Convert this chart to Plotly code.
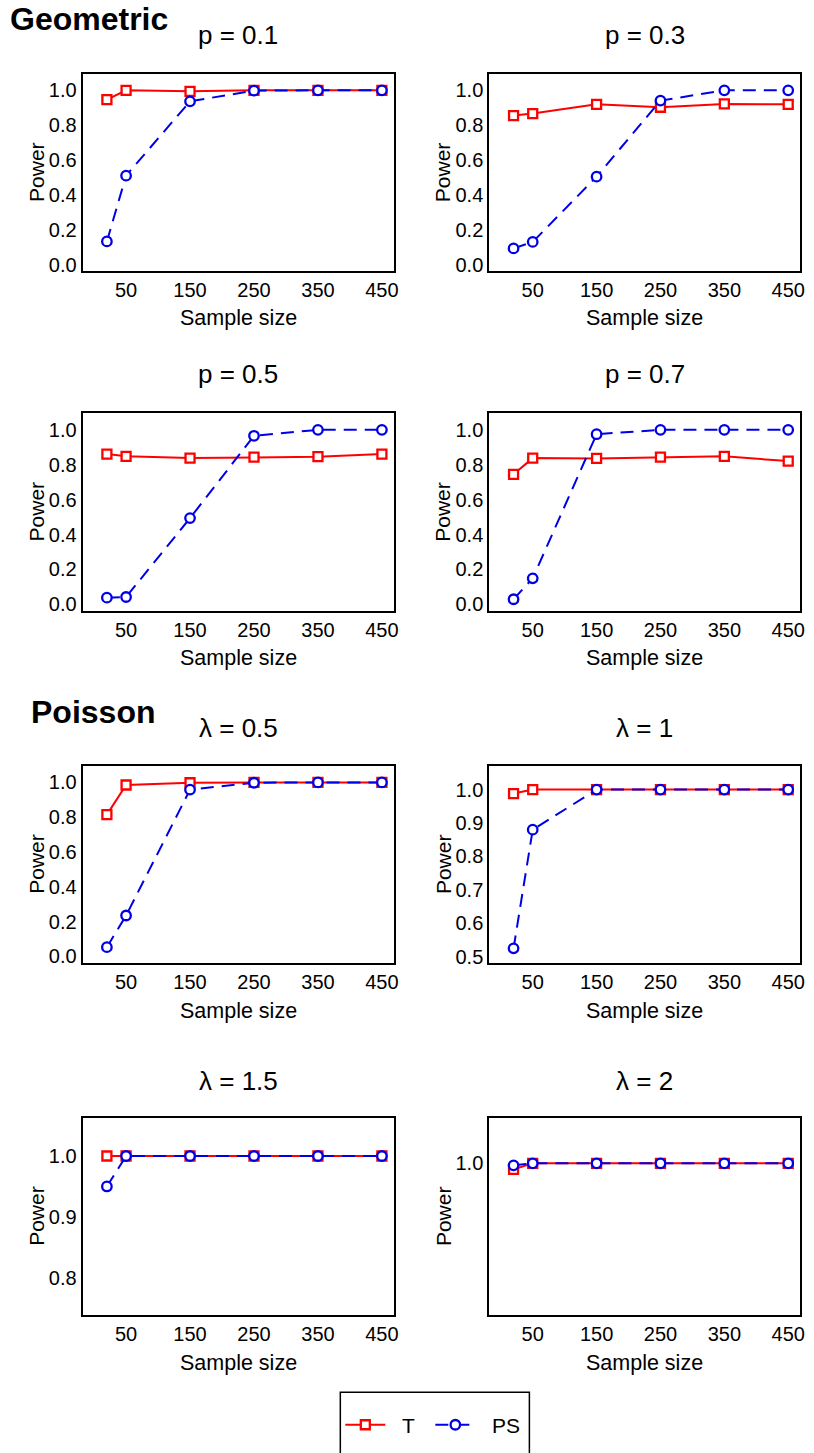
import plotly.graph_objects as go

W, H = 814, 1453

sample_size = [20, 50, 150, 250, 350, 450]
x_ticks = [50, 150, 250, 350, 450]

panel_titles = ["p = 0.1", "p = 0.3", "p = 0.5", "p = 0.7",
                "λ = 0.5", "λ = 1", "λ = 1.5", "λ = 2"]

# Power of test T (red squares) per panel
T_geo_01 = [0.947, 1.0, 0.994, 1.0, 1.0, 1.0]
T_geo_03 = [0.855, 0.867, 0.920, 0.903, 0.922, 0.920]
T_geo_05 = [0.861, 0.848, 0.838, 0.844, 0.846, 0.861]
T_geo_07 = [0.745, 0.838, 0.836, 0.844, 0.848, 0.821]
T_poi_05 = [0.815, 0.985, 0.998, 1.0, 1.0, 1.0]
T_poi_1 = [0.988, 1.0, 1.0, 1.0, 1.0, 1.0]
T_poi_15 = [1.0, 1.0, 1.0, 1.0, 1.0, 1.0]
T_poi_2 = [0.9994, 1.0, 1.0, 1.0, 1.0, 1.0]

# Power of test PS (blue circles) per panel
PS_geo_01 = [0.134, 0.511, 0.937, 0.998, 1.0, 1.0]
PS_geo_03 = [0.094, 0.131, 0.505, 0.941, 1.0, 1.0]
PS_geo_05 = [0.038, 0.042, 0.494, 0.966, 1.0, 1.0]
PS_geo_07 = [0.029, 0.149, 0.975, 1.0, 1.0, 1.0]
PS_poi_05 = [0.053, 0.235, 0.958, 0.998, 1.0, 1.0]
PS_poi_1 = [0.525, 0.880, 1.0, 1.0, 1.0, 1.0]
PS_poi_15 = [0.950, 1.0, 1.0, 1.0, 1.0, 1.0]
PS_poi_2 = [0.9998, 1.0, 1.0, 1.0, 1.0, 1.0]

T_series = [T_geo_01, T_geo_03, T_geo_05, T_geo_07, T_poi_05, T_poi_1, T_poi_15, T_poi_2]
PS_series = [PS_geo_01, PS_geo_03, PS_geo_05, PS_geo_07, PS_poi_05, PS_poi_1, PS_poi_15, PS_poi_2]

y_ticks_01 = [0.0, 0.2, 0.4, 0.6, 0.8, 1.0]
y_ticks_p1 = [0.5, 0.6, 0.7, 0.8, 0.9, 1.0]
y_ticks_p15 = [0.8, 0.9, 1.0]
y_ticks_p2 = [1.0]
y_tick_sets = [y_ticks_01] * 5 + [y_ticks_p1, y_ticks_p15, y_ticks_p2]

y_ranges = [[-0.036, 1.095]] * 5 + [[0.482, 1.071], [0.7395, 1.0626], [0.985, 1.0045]]
x_range = [-18, 469]

FONT = "Liberation Sans, Arial, sans-serif"
RED = "#ff0000"
BLUE = "#0000e6"

# panel boxes in pixels: (left, right, top, bottom)
cols = [(83, 396), (491.7, 804.3)]
rows = [(74, 272), (414.7, 612.7), (768.5, 966), (1121.7, 1319.3)]
title_y = [34.7, 375.5, 731, 1085]
xlab_y = [319, 660, 1014, 1367.5]
ylab_x = [36.7, 445]

def px_x(v):
    return v / W

def px_y(v):
    return 1 - v / H

fig = go.Figure()
annotations = []

for i in range(8):
    r, c = divmod(i, 2)
    n = i + 1
    xa = "x" if n == 1 else f"x{n}"
    ya = "y" if n == 1 else f"y{n}"
    fig.add_trace(go.Scatter(
        x=sample_size, y=T_series[i], xaxis=xa, yaxis=ya,
        mode="lines+markers", name="\u00a0\u00a0T", legendgroup="T", showlegend=(i == 0),
        line=dict(color=RED, width=2),
        marker=dict(symbol="square", size=9, color="white",
                    line=dict(color=RED, width=2.3)),
        cliponaxis=False,
    ))
    fig.add_trace(go.Scatter(
        x=sample_size, y=PS_series[i], xaxis=xa, yaxis=ya,
        mode="lines+markers", name="\u00a0\u00a0PS", legendgroup="PS", showlegend=(i == 0),
        line=dict(color=BLUE, width=2, dash="13px,8px"),
        marker=dict(symbol="circle", size=9.5, color="white",
                    line=dict(color=BLUE, width=2.3)),
        cliponaxis=False,
    ))
    l, rgt = cols[c]
    t, b = rows[r]
    axis_common = dict(showline=True, mirror=True, linecolor="black", linewidth=2,
                       showgrid=False, zeroline=False, ticks="",
                       tickfont=dict(family=FONT, size=20, color="black"))
    fig.layout[f"xaxis{'' if n == 1 else n}"] = dict(
        domain=[px_x(l), px_x(rgt)], anchor=ya, range=x_range,
        tickvals=x_ticks, ticktext=[str(v) for v in x_ticks], **axis_common)
    fig.layout[f"yaxis{'' if n == 1 else n}"] = dict(
        domain=[px_y(b), px_y(t)], anchor=xa, range=y_ranges[i],
        tickvals=y_tick_sets[i], ticktext=[f"{v:.1f}" for v in y_tick_sets[i]],
        **axis_common)
    cx = (l + rgt) / 2
    annotations.append(dict(text=panel_titles[i], x=px_x(cx), y=px_y(title_y[r]),
                            xref="paper", yref="paper", showarrow=False,
                            xanchor="center", yanchor="middle",
                            font=dict(family=FONT, size=26, color="black")))
    annotations.append(dict(text="Sample size", x=px_x(cx), y=px_y(xlab_y[r]),
                            xref="paper", yref="paper", showarrow=False,
                            xanchor="center", yanchor="middle",
                            font=dict(family=FONT, size=21.5, color="black")))
    annotations.append(dict(text="Power", x=px_x(ylab_x[c]), y=px_y((t + b) / 2),
                            xref="paper", yref="paper", showarrow=False, textangle=-90,
                            xanchor="center", yanchor="middle",
                            font=dict(family=FONT, size=21, color="black")))

annotations.append(dict(text="<b>Geometric</b>", x=px_x(8), y=px_y(19),
                        xref="paper", yref="paper", showarrow=False,
                        xanchor="left", yanchor="middle",
                        font=dict(family=FONT, size=32, color="black")))
annotations.append(dict(text="<b>Poisson</b>", x=px_x(29), y=px_y(714),
                        xref="paper", yref="paper", showarrow=False,
                        xanchor="left", yanchor="middle",
                        font=dict(family=FONT, size=32, color="black")))

fig.update_layout(
    width=W, height=H,
    margin=dict(l=0, r=0, t=0, b=0),
    paper_bgcolor="white", plot_bgcolor="white",
    annotations=annotations,
    showlegend=True,
    legend=dict(orientation="h", x=px_x(342), xanchor="left",
                y=px_y(1430), yanchor="middle",
                font=dict(family=FONT, size=21, color="black"),
                bgcolor="rgba(0,0,0,0)", borderwidth=0, itemwidth=40,
                entrywidth=35, entrywidthmode="pixels"),
    shapes=[dict(type="rect", xref="paper", yref="paper",
                 x0=px_x(342), x1=px_x(532), y0=-0.03, y1=px_y(1397),
                 line=dict(color="black", width=1.5), fillcolor="rgba(0,0,0,0)")],
)

fig.write_html("out.html", config={"displayModeBar": False},
               post_script="document.body.style.margin='0';document.body.style.overflow='hidden';")
